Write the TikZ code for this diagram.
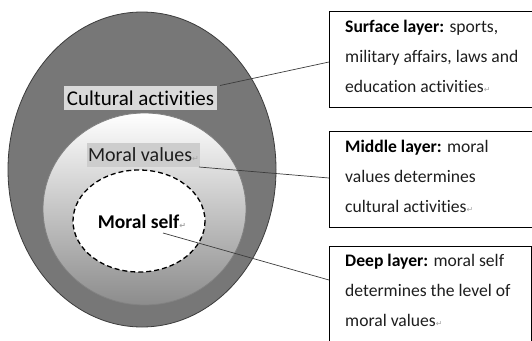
\documentclass[tikz,border=0pt]{standalone}
\usepackage{fontspec}
\setmainfont{Carlito}[Ligatures=NoCommon]
\newfontfamily\symfont{DejaVu Sans}
\definecolor{outerfill}{RGB}{119,119,119}
\definecolor{outerline}{RGB}{60,60,60}
\definecolor{midline}{RGB}{130,130,130}
\definecolor{midbot}{RGB}{140,140,140}
\definecolor{midmid}{RGB}{222,222,222}
\definecolor{labbg}{RGB}{217,217,217}
\definecolor{labbg2}{RGB}{205,205,205}
\definecolor{txt}{RGB}{30,30,30}
\newcommand{\pmark}{{\symfont\fontsize{8}{8}\selectfont\color{gray!70}↵}}
\begin{document}
\begin{tikzpicture}[x=1pt,y=-1pt,
  layerbox/.style={draw=black, line width=0.8pt, anchor=north west, minimum width=203pt,
    minimum height=96pt, inner sep=0pt},
  boxtext/.style={anchor=north west, align=left, inner sep=0pt,
    font=\fontsize{17.6}{30}\selectfont, text=txt},
  circlabel/.style={font=\fontsize{21}{22}\selectfont, inner sep=1pt},
  connector/.style={draw=outerline, line width=0.7pt}]
\useasboundingbox (0,0) rectangle (532,340);
% layers
\draw[outerline, line width=0.8pt, fill=outerfill] (142,169.5) ellipse [x radius=134, y radius=157.5];
\shade[top color=white, middle color=midmid, bottom color=midbot] (144.5,209) ellipse [x radius=101.5, y radius=96];
\draw[midline, line width=0.8pt] (144.5,209) ellipse [x radius=101.5, y radius=96];
\draw[black, line width=1.3pt, dash pattern=on 5pt off 3pt, fill=white] (139,221) ellipse [x radius=66, y radius=51];
% labels
\node[circlabel, fill=labbg, text=black, minimum height=24pt, minimum width=153pt] (cult) at (140.5,98) {Cultural activities};
\node[circlabel, font=\fontsize{20}{22}\selectfont, fill=labbg2, text=txt, minimum height=24pt, minimum width=111pt] (mv) at (143.5,155) {Moral values\pmark};
\node[circlabel, font=\fontsize{19.5}{20}\bfseries\selectfont, text=black] (ms) at (142,222) {Moral self\pmark};
% boxes
\node[layerbox] (b1) at (329,11) {};
\node[boxtext] (t1) at (345,19.5) {\textbf{\color{black}Surface layer:} sports,\\ military affairs, laws and\\ education activities\pmark};
\node[layerbox] (b2) at (329,131) {};
\node[boxtext] (t2) at (345,139.5) {\textbf{\color{black}Middle layer:} moral\\ values determines\\ cultural activities\pmark};
\coordinate (b3nw) at (329,246);
\coordinate (b3ne) at (531.5,246);
\coordinate (b3sw) at (329,342);
\coordinate (b3se) at (531.5,342);
\draw[black, line width=0.8pt] (b3sw) -- (b3nw) -- (b3ne) -- (b3se);
\node[boxtext] (t3) at (345,253.5) {\textbf{\color{black}Deep layer:} moral self\\ determines the level of\\ moral values\pmark};
% connectors
\coordinate (c1) at (220,85.5);
\coordinate (c1e) at (329,62);
\draw[connector] (c1) -- (c1e);
\coordinate (c2) at (199,167);
\coordinate (c2e) at (329,178);
\draw[connector] (c2) -- (c2e);
\coordinate (c3) at (163,233);
\coordinate (c3e) at (329,280);
\draw[connector] (c3) -- (c3e);
\end{tikzpicture}
\end{document}
